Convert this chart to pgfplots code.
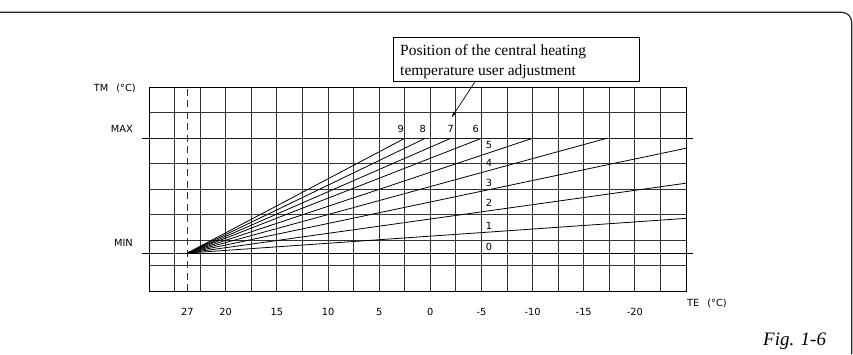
\documentclass[border=0pt]{standalone}
\usepackage{fontspec}
\setmainfont{Liberation Serif}
\newfontfamily\lbl{DejaVu Sans}
\usepackage{pgfplots}
\pgfplotsset{compat=1.18}
\usetikzlibrary{arrows.meta}
\begin{document}
\begin{tikzpicture}
\useasboundingbox (0,0) rectangle (853pt,354pt);
% outer frame
\draw[line width=1.2pt, black!85] (0,341.7pt) -- (841.7pt,341.7pt) arc[start angle=90,end angle=0,radius=10pt] -- (851.7pt,0);
\begin{axis}[
  at={(149pt,62.7pt)}, anchor=south west,
  scale only axis, width=537pt, height=204pt,
  xmin=0, xmax=21, ymin=0, ymax=8,
  axis line style={black, line width=0.9pt},
  xtick={1.5,3,5,7,9,11,13,15,17,19},
  xticklabels={27,20,15,10,5,0,-5,-10,-15,-20},
  minor xtick={0,1,...,21},
  ytick={1.5,6},
  yticklabels={MIN,MAX},
  minor ytick={0,1,...,8},
  xminorgrids=true, yminorgrids=true, ymajorgrids=true, xmajorgrids=false,
  minor grid style={black!80, line width=0.8pt},
  major grid style={black!90, line width=0.8pt},
  tick align=outside,
  major tick length=7pt, minor tick length=0pt,
  xtick style={draw=none},
  ytick style={black, line width=0.8pt},
  ticklabel style={font=\lbl\fontsize{9.8}{11}\selectfont},
  xticklabel style={anchor=north, inner sep=0pt, yshift=-9.5pt},
  yticklabel style={anchor=south east, inner sep=0pt, xshift=-9pt, yshift=6pt},
  xlabel={TE\hspace{8pt}(°C)}, ylabel={TM\hspace{8pt}(°C)},
  every axis x label/.style={at={(axis description cs:1,0)}, anchor=west, inner sep=0pt, xshift=1pt, yshift=-11.7pt, font=\lbl\fontsize{9.8}{11}\selectfont},
  every axis y label/.style={at={(axis description cs:0,1)}, anchor=east, inner sep=0pt, xshift=-13pt, yshift=-0.7pt, font=\lbl\fontsize{9.8}{11}\selectfont},
  clip=false,
]
% dashed reference line at 27
\addplot[black!80, line width=0.9pt, dash pattern=on 7pt off 4.5pt] coordinates {(1.5,0) (1.5,8)};
% heating curves 0..9
\addplot[black, line width=0.8pt] coordinates {(1.5,1.5) (21,1.5)};
\addplot[black, line width=0.8pt] coordinates {(1.5,1.5) (21,2.86)};
\addplot[black, line width=0.8pt] coordinates {(1.5,1.5) (21,4.24)};
\addplot[black, line width=0.8pt] coordinates {(1.5,1.5) (21,5.61)};
\addplot[black, line width=0.8pt] coordinates {(1.5,1.5) (17.9,6)};
\addplot[black, line width=0.8pt] coordinates {(1.5,1.5) (15.0,6)};
\addplot[black, line width=0.8pt] coordinates {(1.5,1.5) (13.0,6)};
\addplot[black, line width=0.8pt] coordinates {(1.5,1.5) (11.8,6)};
\addplot[black, line width=0.8pt] coordinates {(1.5,1.5) (10.8,6)};
\addplot[black, line width=0.8pt] coordinates {(1.5,1.5) (10.0,6)};
% curve labels
\begin{scope}[every node/.style={font=\lbl\fontsize{9.8}{11}\selectfont, inner sep=0pt}]
\node at (axis cs:9.84,6.36) {9};
\node at (axis cs:10.70,6.36) {8};
\node at (axis cs:11.80,6.36) {7};
\node at (axis cs:12.78,6.36) {6};
\node at (axis cs:13.30,5.74) {5};
\node at (axis cs:13.30,5.03) {4};
\node at (axis cs:13.30,4.26) {3};
\node at (axis cs:13.30,3.46) {2};
\node at (axis cs:13.30,2.56) {1};
\node at (axis cs:13.30,1.75) {0};
\end{scope}
\end{axis}
% annotation box
\draw[line width=0.9pt] (393.3pt,272.3pt) rectangle (639.3pt,317pt);
\node[anchor=west, inner sep=0pt, font=\fontsize{15.5}{20}\selectfont] at (400pt,302.3pt) {Position of the central heating};
\node[anchor=west, inner sep=0pt, font=\fontsize{15.5}{20}\selectfont] at (400pt,282.3pt) {temperature user adjustment};
\draw[line width=0.7pt, -{Stealth[length=6pt,width=3pt]}] (475pt,272.3pt) -- (451.7pt,236.7pt);
\node[anchor=west, inner sep=0pt, font=\itshape\fontsize{19}{22}\selectfont] at (763pt,12.3pt) {Fig. 1-6};
\end{tikzpicture}
\end{document}
